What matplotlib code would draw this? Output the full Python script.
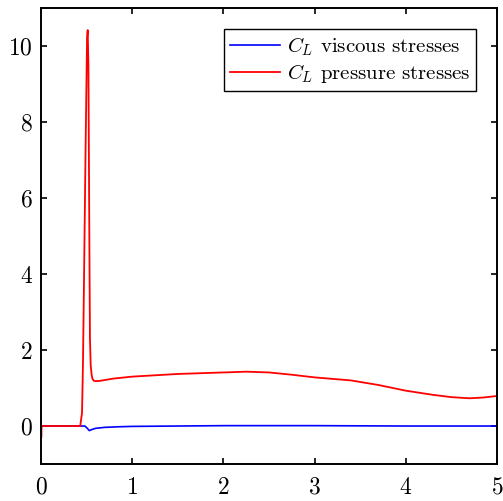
import matplotlib
matplotlib.use("Agg")
import matplotlib.pyplot as plt

plt.rcParams["font.family"] = "serif"
plt.rcParams["font.serif"] = ["cmr10", "DejaVu Serif"]
plt.rcParams["mathtext.fontset"] = "cm"
plt.rcParams["axes.unicode_minus"] = False
plt.rcParams["axes.formatter.use_mathtext"] = True

# lift coefficient from viscous stresses
t_visc = [0.0, 0.48, 0.50, 0.53, 0.56, 0.60, 0.70, 0.85, 1.0, 1.5, 2.0, 3.0, 4.0, 5.0]
cl_visc = [0.0, 0.0, -0.04, -0.12, -0.09, -0.06, -0.035, -0.02, -0.01, 0.0, 0.01, 0.01, 0.0, 0.0]

# lift coefficient from pressure stresses
t_pres = [0.0, 0.003, 0.006, 0.43, 0.45, 0.46, 0.47, 0.49, 0.505, 0.512, 0.52, 0.53,
          0.537, 0.545, 0.555, 0.565, 0.58, 0.60, 0.65, 0.80, 1.0, 1.5, 1.75, 2.0, 2.25,
          2.5, 2.75, 3.0, 3.4, 3.7, 4.0, 4.3, 4.5, 4.7, 4.85, 5.0]
cl_pres = [0.15, -0.3, 0.0, 0.0, 0.35, 1.6, 3.5, 7.5, 10.2, 10.42, 9.5, 5.0,
           2.3, 1.6, 1.35, 1.24, 1.19, 1.18, 1.19, 1.25, 1.30, 1.37, 1.39, 1.41, 1.43,
           1.41, 1.35, 1.28, 1.20, 1.08, 0.93, 0.82, 0.76, 0.73, 0.75, 0.79]

fig = plt.figure(figsize=(5.03, 5.01), dpi=100)
ax = fig.add_axes([0.0815, 0.0738, 0.9065, 0.9102])

ax.plot(t_visc, cl_visc, color="#0000ff", lw=1.2, label=r"$C_L$ viscous stresses")
ax.plot(t_pres, cl_pres, color="#ff0000", lw=1.3, label=r"$C_L$ pressure stresses")

ax.set_xlim(0, 5)
ax.set_ylim(-1, 11)
ax.set_xticks([0, 1, 2, 3, 4, 5])
ax.set_yticks([0, 2, 4, 6, 8, 10])
ax.tick_params(direction="in", length=4, width=1.2, top=True, right=True,
               labelsize=17)
ax.tick_params(axis="x", pad=9)
ax.tick_params(axis="y", pad=6)
for s in ax.spines.values():
    s.set_linewidth(1.4)

leg = ax.legend(loc="upper right", fontsize=15, fancybox=False, framealpha=1,
                edgecolor="black", handlelength=2.4, borderaxespad=1.0,
                borderpad=0.3, labelspacing=0.2, handletextpad=0.3)
leg.get_frame().set_linewidth(1.0)

fig.savefig("out.png", dpi=100)
